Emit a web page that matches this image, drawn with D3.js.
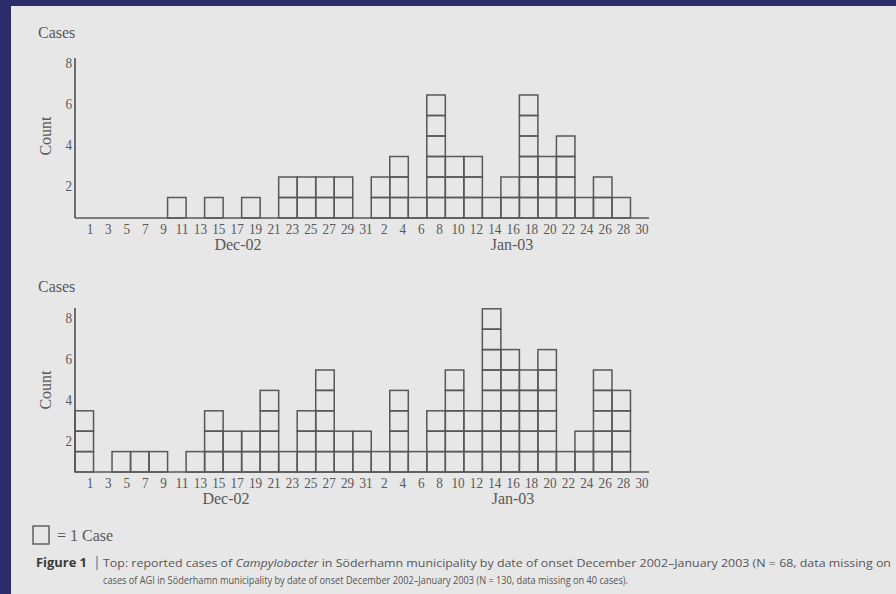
<!DOCTYPE html>
<html>
<head>
<meta charset="utf-8">
<script src="https://cdn.jsdelivr.net/npm/d3@7"></script>
<style>
  html, body { margin: 0; padding: 0; background: #2c2b6c; }
  svg { display: block; }
</style>
</head>
<body>
<svg id="fig" width="896" height="594"></svg>
<script>
// Two-day slots: odd days of December, then even days of January
const slotLabels = ["1","3","5","7","9","11","13","15","17","19","21","23","25","27","29","31",
                    "2","4","6","8","10","12","14","16","18","20","22","24","26","28","30"];
const monthLabels = ["Dec-02", "Jan-03"];
const yTickValues = [2, 4, 6, 8];

// Reported Campylobacter cases per slot
const campylobacterCases = [0,0,0,0,0,1,0,1,0,1,0,2,2,2,2,0,
                            2,3,1,6,3,3,1,2,6,3,4,1,2,1,0];
// Acute gastrointestinal illness (AGI) cases per slot
const agiCases = [3,0,1,1,1,0,1,3,2,2,4,1,3,5,2,2,
                  1,4,1,3,5,3,8,6,5,6,1,2,5,4,0];

const captionLine1 = "Top: reported cases of Campylobacter in Söderhamn municipality by date of onset December 2002–January 2003 (N = 68, data missing on";
const captionLine2 = "cases of AGI in Söderhamn municipality by date of onset December 2002–January 2003 (N = 130, data missing on 40 cases).";

const svg = d3.select("#fig");
const W = 896, H = 594;
const ink = "#585858";
const serif = "'Liberation Serif', 'Times New Roman', serif";

// page
svg.append("rect").attr("width", W).attr("height", H).attr("fill", "#2c2b6c");
svg.append("rect").attr("x", 11).attr("y", 6).attr("width", W - 11).attr("height", H - 6)
  .attr("fill", "#e7e7e7");

const x = d3.scaleBand().domain(slotLabels).range([75, 649]).paddingInner(0).paddingOuter(0);
// tick labels drift slightly against the slot grid
const xLabel = d3.scalePoint().domain(slotLabels).range([90, 642]);

const panels = [
  { values: campylobacterCases, baseline: 218, unit: 20.5, axisTop: 58, decX: 238, janX: 512 },
  { values: agiCases,           baseline: 472, unit: 20.4, axisTop: 308, decX: 226, janX: 513 }
];

// narrow serif digits
function digits(sel) {
  sel.attr("font-family", serif).attr("font-size", 15).attr("fill", ink)
    .attr("textLength", d => String(d).length * 6.6)
    .attr("lengthAdjust", "spacingAndGlyphs");
}

panels.forEach(p => {
  const g = svg.append("g");
  const y = d3.scaleLinear().domain([0, 8]).range([p.baseline, p.baseline - 8 * p.unit]);

  // stacked unit boxes, one per case
  const cells = [];
  p.values.forEach((v, i) => {
    for (let k = 0; k < v; k++) cells.push({ slot: slotLabels[i], k });
  });
  g.append("g").selectAll("rect").data(cells).join("rect")
    .attr("x", d => x(d.slot))
    .attr("y", d => y(d.k + 1))
    .attr("width", x.bandwidth())
    .attr("height", d => y(d.k) - y(d.k + 1))
    .attr("fill", "none")
    .attr("stroke", ink)
    .attr("stroke-width", 1.5);

  // axis lines
  g.append("line").attr("x1", 75).attr("x2", 75).attr("y1", p.axisTop).attr("y2", p.baseline)
    .attr("stroke", ink).attr("stroke-width", 1.7);
  g.append("line").attr("x1", 75).attr("x2", 649).attr("y1", p.baseline).attr("y2", p.baseline)
    .attr("stroke", ink).attr("stroke-width", 1.7);

  // y tick labels
  g.append("g").selectAll("text").data(yTickValues).join("text")
    .attr("x", 72).attr("y", d => y(d) + 11)
    .attr("text-anchor", "end").attr("dominant-baseline", "middle")
    .call(digits)
    .text(d => d);

  // x tick labels
  g.append("g").selectAll("text").data(slotLabels).join("text")
    .attr("x", d => xLabel(d)).attr("y", p.baseline + 13)
    .attr("text-anchor", "middle").attr("dominant-baseline", "middle")
    .call(digits)
    .text(d => d);

  // month labels
  [p.decX, p.janX].forEach((mx, i) => {
    g.append("text").attr("x", mx).attr("y", p.baseline + 28)
      .attr("text-anchor", "middle").attr("dominant-baseline", "middle")
      .attr("font-family", serif).attr("font-size", 16).attr("fill", ink)
      .text(monthLabels[i]);
  });

  // titles
  g.append("text").attr("x", 38).attr("y", p.baseline - 184)
    .attr("dominant-baseline", "middle")
    .attr("font-family", serif).attr("font-size", 16).attr("fill", ink)
    .text("Cases");
  g.append("text")
    .attr("transform", `translate(47, ${p.baseline - 82}) rotate(-90)`)
    .attr("text-anchor", "middle").attr("dominant-baseline", "middle")
    .attr("font-family", serif).attr("font-size", 16).attr("fill", ink)
    .text("Count");
});

// key
svg.append("rect").attr("x", 33).attr("y", 526).attr("width", 16).attr("height", 18)
  .attr("fill", "none").attr("stroke", ink).attr("stroke-width", 1.4);
svg.append("text").attr("x", 57).attr("y", 537)
  .attr("dominant-baseline", "middle")
  .attr("font-family", serif).attr("font-size", 16).attr("fill", ink)
  .text("= 1 Case");

// caption
const sans = "'Open Sans', 'DejaVu Sans', sans-serif";
svg.append("text").attr("x", 36).attr("y", 567)
  .attr("font-family", sans).attr("font-size", 12).attr("font-weight", "bold").attr("fill", "#3a3a3a")
  .attr("textLength", 51).attr("lengthAdjust", "spacingAndGlyphs")
  .text("Figure 1");
svg.append("line").attr("x1", 97).attr("x2", 97).attr("y1", 556).attr("y2", 570)
  .attr("stroke", "#666").attr("stroke-width", 1);

const c1 = svg.append("text").attr("x", 103).attr("y", 567)
  .attr("font-family", sans).attr("font-size", 11).attr("fill", "#555")
  .attr("textLength", 788).attr("lengthAdjust", "spacingAndGlyphs");
captionLine1.split(/(Campylobacter)/).forEach(part => {
  c1.append("tspan").attr("font-style", part === "Campylobacter" ? "italic" : null).text(part);
});

svg.append("text").attr("x", 103).attr("y", 584)
  .attr("font-family", sans).attr("font-size", 11).attr("fill", "#555")
  .attr("textLength", 525).attr("lengthAdjust", "spacingAndGlyphs")
  .text(captionLine2);
</script>
</body>
</html>
